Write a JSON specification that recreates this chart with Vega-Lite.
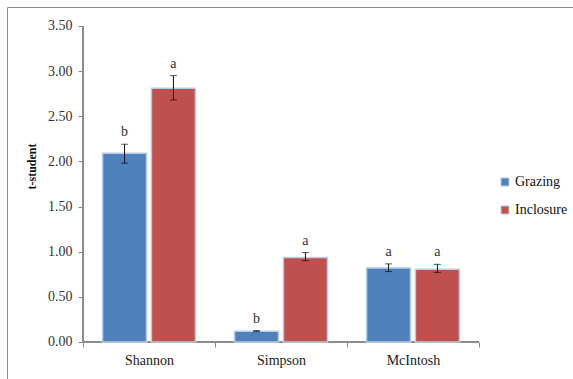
{
  "$schema": "https://vega.github.io/schema/vega-lite/v6.json",
  "autosize": "none",
  "padding": {"left": 7, "top": 7, "right": 0, "bottom": 0},
  "width": 566,
  "height": 372,
  "background": "white",
  "config": {
    "view": {"stroke": "#8c8c8c", "strokeWidth": 1},
    "font": "Times New Roman, Liberation Serif, serif",
    "axis": {
      "labelFont": "Times New Roman, Liberation Serif, serif",
      "titleFont": "Times New Roman, Liberation Serif, serif",
      "grid": false,
      "domain": false,
      "tickColor": "#8c8c8c",
      "tickSize": 5,
      "labelColor": "#333333",
      "labelFontSize": 14
    },
    "legend": {"labelFont": "Times New Roman, Liberation Serif, serif"},
    "text": {"font": "Times New Roman, Liberation Serif, serif"}
  },
  "data": {
    "values": [
      {"index": "Shannon", "treatment": "Grazing", "mean": 2.09, "lower": 1.98, "upper": 2.19, "letter": "b"},
      {"index": "Shannon", "treatment": "Inclosure", "mean": 2.81, "lower": 2.68, "upper": 2.95, "letter": "a"},
      {"index": "Simpson", "treatment": "Grazing", "mean": 0.12, "lower": 0.115, "upper": 0.125, "letter": "b"},
      {"index": "Simpson", "treatment": "Inclosure", "mean": 0.935, "lower": 0.9, "upper": 0.99, "letter": "a"},
      {"index": "McIntosh", "treatment": "Grazing", "mean": 0.82, "lower": 0.78, "upper": 0.865, "letter": "a"},
      {"index": "McIntosh", "treatment": "Inclosure", "mean": 0.805, "lower": 0.77, "upper": 0.86, "letter": "a"}
    ]
  },
  "encoding": {
    "x": {
      "field": "index",
      "type": "nominal",
      "sort": ["Shannon", "Simpson", "McIntosh"],
      "scale": {"domain": ["Shannon", "Simpson", "McIntosh"], "paddingInner": 0, "paddingOuter": 0.644, "align": 0.447},
      "axis": {"title": null, "labelAngle": 0, "offset": -37, "tickBand": "extent", "labelPadding": 6, "labelColor": "#1a1a1a"}
    },
    "xOffset": {
      "field": "treatment",
      "type": "nominal",
      "scale": {"domain": ["Grazing", "Inclosure"], "paddingInner": 0.1, "paddingOuter": 0.4}
    }
  },
  "layer": [
    {
      "mark": {"type": "rule", "color": "#8c8c8c"},
      "encoding": {
        "x": {"datum": "Shannon", "bandPosition": 0},
        "xOffset": null,
        "y": {"datum": 0},
        "y2": {"datum": 3.5}
      }
    },
    {
      "mark": {"type": "rule", "color": "#8c8c8c"},
      "encoding": {
        "x": {"datum": "Shannon", "bandPosition": 0},
        "x2": {"datum": "McIntosh", "bandPosition": 1},
        "xOffset": null,
        "y": {"datum": 0}
      }
    },
    {
      "mark": {"type": "bar", "stroke": "#b9cde5", "strokeWidth": 1.5},
      "encoding": {
        "y": {
          "field": "mean",
          "type": "quantitative",
          "scale": {"domain": [-0.41, 3.71], "nice": false, "zero": false},
          "axis": {
            "title": "t-student",
            "values": [0, 0.5, 1, 1.5, 2, 2.5, 3, 3.5],
            "format": ".2f",
            "offset": -76,
            "labelPadding": 6,
            "titleFontSize": 12,
            "titleFontWeight": "bold",
            "titleColor": "#111111",
            "titleX": -52,
            "titleY": 159,
            "titleBaseline": "middle",
            "titleAlign": "center"
          }
        },
        "y2": {"datum": 0},
        "color": {
          "field": "treatment",
          "type": "nominal",
          "scale": {"domain": ["Grazing", "Inclosure"], "range": ["#4f81bd", "#c0504d"]},
          "legend": {
            "title": null,
            "orient": "none",
            "legendX": 491,
            "legendY": 168,
            "padding": 0,
            "symbolType": "square",
            "symbolSize": 64,
            "symbolStrokeColor": "#b9cde5",
            "symbolStrokeWidth": 1,
            "labelFontSize": 14,
            "labelColor": "#111111",
            "labelOffset": 3,
            "rowPadding": 14
          }
        }
      }
    },
    {
      "mark": {"type": "rule", "color": "#111111"},
      "encoding": {
        "y": {"field": "lower", "type": "quantitative"},
        "y2": {"field": "upper"}
      }
    },
    {
      "mark": {"type": "tick", "color": "#111111", "size": 7, "thickness": 1},
      "encoding": {"y": {"field": "lower", "type": "quantitative"}}
    },
    {
      "mark": {"type": "tick", "color": "#111111", "size": 7, "thickness": 1},
      "encoding": {"y": {"field": "upper", "type": "quantitative"}}
    },
    {
      "mark": {"type": "text", "dy": -8, "baseline": "alphabetic", "fontSize": 14, "color": "#333333"},
      "encoding": {
        "y": {"field": "upper", "type": "quantitative"},
        "text": {"field": "letter"}
      }
    }
  ]
}
